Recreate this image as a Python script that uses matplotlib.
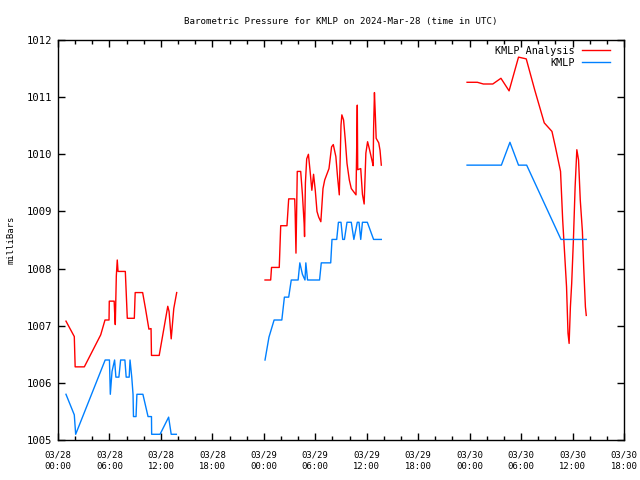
import numpy as np
import matplotlib
matplotlib.use("Agg")
import matplotlib.pyplot as plt
from matplotlib.ticker import MultipleLocator

nan = np.nan

# hours since 2024-03-28 00:00 UTC
analysis_hours = [
    0.93, 1.9, 2.0, 3.07, 4.98, 5.48, 5.95, 5.98, 6.55, 6.6, 6.68, 6.8, 6.91, 7.0,
    7.85, 8.08, 8.9, 9.0, 9.87, 10.2, 10.6, 10.85, 10.9, 11.8, 12.8, 12.95, 13.2,
    13.5, 13.84, nan,
    24.14, 24.8, 24.9, 25.8, 25.97, 26.7, 26.9, 27.6, 27.65, 27.75, 27.9, 28.3,
    28.5, 28.7, 28.75, 28.85, 29.0, 29.2, 29.4, 29.6, 29.8, 30.0, 30.2, 30.4,
    30.65, 30.9, 31.1, 31.6, 31.9, 32.1, 32.4, 32.6, 32.8, 33.0, 33.1, 33.3,
    33.5, 33.7, 33.97, 34.2, 34.75, 34.9, 34.95, 35.3, 35.5, 35.7, 35.9, 36.1,
    36.3, 36.6, 36.75, 36.8, 36.9, 37.0, 37.1, 37.4, 37.55, 37.7, nan,
    47.7, 48.9, 49.6, 50.7, 51.65, 52.6, 53.7, 54.6, 55.6, 56.7, 57.3, 57.6,
    58.0, 58.6, 58.85, 59.1, 59.3, 59.47, 59.6, 59.75, 59.9, 60.1, 60.3, 60.5,
    60.7, 60.9, 61.15, 61.3, 61.5, 61.6,
]
analysis_mb = [
    1007.08, 1006.81, 1006.28, 1006.28, 1006.84, 1007.1, 1007.1, 1007.43, 1007.43,
    1007.25, 1007.02, 1007.87, 1008.15, 1007.95, 1007.95, 1007.13, 1007.13,
    1007.58, 1007.58, 1007.3, 1006.94, 1006.95, 1006.48, 1006.48, 1007.34,
    1007.25, 1006.77, 1007.3, 1007.58, nan,
    1007.8, 1007.8, 1008.02, 1008.02, 1008.75, 1008.75, 1009.22, 1009.22, 1009.0,
    1008.27, 1009.7, 1009.7, 1009.3, 1008.79, 1008.56, 1009.5, 1009.92, 1010.0,
    1009.7, 1009.37, 1009.65, 1009.37, 1009.0, 1008.9, 1008.82, 1009.4, 1009.55,
    1009.75, 1010.13, 1010.17, 1009.96, 1009.6, 1009.29, 1010.51, 1010.69,
    1010.6, 1010.25, 1009.84, 1009.55, 1009.4, 1009.29, 1010.86, 1009.73,
    1009.75, 1009.3, 1009.13, 1010.02, 1010.22, 1010.1, 1009.9, 1009.8, 1010.44,
    1011.08, 1010.7, 1010.28, 1010.2, 1010.07, 1009.81, nan,
    1011.26, 1011.26, 1011.23, 1011.23, 1011.33, 1011.11, 1011.70, 1011.67,
    1011.12, 1010.55, 1010.45, 1010.40, 1010.13, 1009.7, 1008.85, 1008.2,
    1007.68, 1006.87, 1006.69, 1007.33, 1007.74, 1008.5, 1009.43, 1010.08,
    1009.9, 1009.2, 1008.65, 1008.03, 1007.33, 1007.18,
]

obs_hours = [
    0.93, 1.9, 2.06, 5.5, 6.0, 6.1, 6.3, 6.6, 6.75, 7.1, 7.3, 7.8, 7.95, 8.3, 8.4,
    8.6, 8.75, 8.8, 9.1, 9.2, 9.9, 10.5, 10.9, 10.92, 11.9, 12.9, 13.2, 13.8, nan,
    24.14, 24.6, 25.2, 26.1, 26.4, 26.9, 27.2, 28.0, 28.2, 28.5, 28.8, 28.9, 29.1,
    30.5, 30.7, 31.8, 31.95, 32.5, 32.7, 33.0, 33.2, 33.4, 33.7, 34.2, 34.5, 34.9,
    35.1, 35.3, 35.5, 36.07, 36.8, 37.7, nan,
    47.7, 51.7, 52.7, 53.7, 54.65, 58.65, 61.6,
]
obs_mb = [
    1005.8, 1005.44, 1005.1, 1006.4, 1006.4, 1005.8, 1006.2, 1006.4, 1006.1,
    1006.1, 1006.4, 1006.4, 1006.1, 1006.1, 1006.4, 1006.1, 1005.8, 1005.41,
    1005.41, 1005.8, 1005.8, 1005.41, 1005.41, 1005.1, 1005.1, 1005.4, 1005.1,
    1005.1, nan,
    1006.4, 1006.8, 1007.1, 1007.1, 1007.5, 1007.5, 1007.8, 1007.8, 1008.1,
    1007.9, 1007.8, 1008.1, 1007.8, 1007.8, 1008.1, 1008.1, 1008.51, 1008.51,
    1008.81, 1008.81, 1008.51, 1008.51, 1008.81, 1008.81, 1008.51, 1008.81,
    1008.81, 1008.51, 1008.81, 1008.81, 1008.51, 1008.51, nan,
    1009.81, 1009.81, 1010.21, 1009.81, 1009.81, 1008.51, 1008.51,
]

x_tick_labels = ["03/28\n00:00", "03/28\n06:00", "03/28\n12:00", "03/28\n18:00",
                 "03/29\n00:00", "03/29\n06:00", "03/29\n12:00", "03/29\n18:00",
                 "03/30\n00:00", "03/30\n06:00", "03/30\n12:00", "03/30\n18:00"]

plt.rcParams["font.family"] = ["DejaVu Sans Mono"]

fig = plt.figure(figsize=(6.4, 4.8), dpi=100)
ax = fig.add_axes([58 / 640, 40 / 480, 566 / 640, 400 / 480])

ax.plot(analysis_hours, analysis_mb, color="#ff0000", lw=1, label="KMLP Analysis")
ax.plot(obs_hours, obs_mb, color="#0080ff", lw=1, label="KMLP")

ax.set_xlim(0, 66)
ax.set_ylim(1005, 1012)
ax.set_xticks(np.arange(0, 67, 6))
ax.set_xticklabels(x_tick_labels, fontsize=6.4, linespacing=1.3)
ax.xaxis.set_minor_locator(MultipleLocator(2))
ax.set_yticks(np.arange(1005, 1013, 1))
ax.tick_params(axis="y", labelsize=7.6, pad=4.5)
ax.tick_params(axis="x", pad=7.5)
ax.tick_params(which="both", direction="in", top=True, right=True, width=1)
ax.tick_params(which="major", length=5)
ax.tick_params(which="minor", length=3)
for s in ax.spines.values():
    s.set_linewidth(1)

ax.set_ylabel("milliBars", fontsize=6.4, labelpad=7.5)
ax.set_title("Barometric Pressure for KMLP on 2024-Mar-28 (time in UTC)",
             fontsize=6.6, pad=11.5)

ax.legend(loc="upper right", bbox_to_anchor=(1 - 14 / 566, 1 - 6 / 400),
          frameon=False, markerfirst=False, fontsize=7.3, handlelength=2.8,
          borderaxespad=0, borderpad=0, labelspacing=0.15, handletextpad=0.7)

fig.savefig("out.png", dpi=100)
